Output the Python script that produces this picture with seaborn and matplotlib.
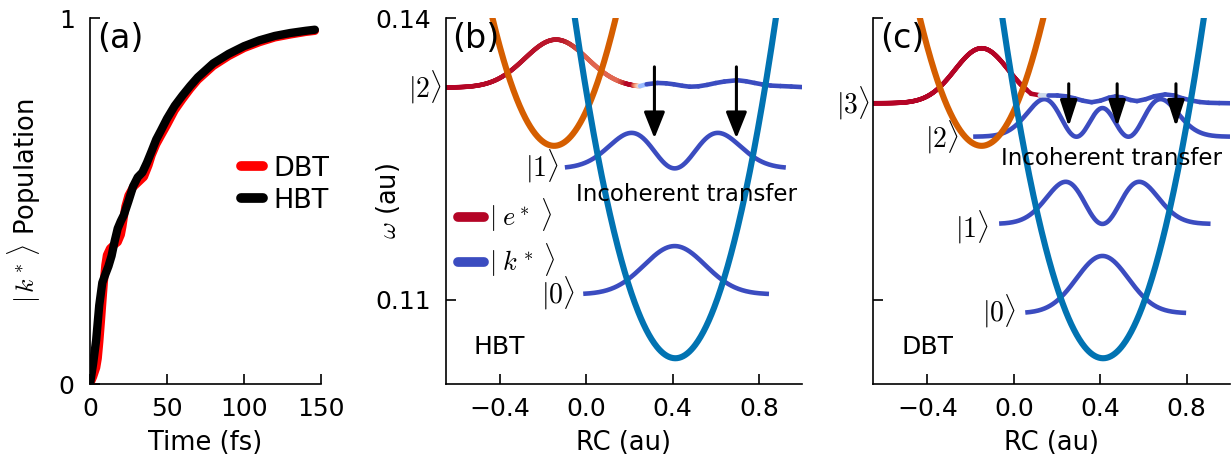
import numpy as np
import pandas as pd
import matplotlib
matplotlib.use("Agg")
import matplotlib.pyplot as plt
import seaborn as sns
from matplotlib.collections import LineCollection
from matplotlib.lines import Line2D

# ---------------- data: panel (a) population ----------------
t_hbt = [0, 2, 4, 6, 8, 10, 12, 14, 16, 18, 20, 22, 25, 28, 31, 34, 37, 40, 43, 46,
         50, 55, 60, 65, 70, 80, 90, 100, 110, 120, 130, 140, 146]
pop_hbt = [0, 0.055, 0.12, 0.215, 0.277, 0.300, 0.322, 0.350, 0.390, 0.425, 0.445, 0.462,
           0.500, 0.540, 0.565, 0.578, 0.605, 0.636, 0.668, 0.692, 0.725, 0.760, 0.788,
           0.814, 0.838, 0.876, 0.902, 0.923, 0.939, 0.951, 0.959, 0.965, 0.968]
t_dbt = [0, 2, 4, 5, 6, 7, 8, 9, 10, 11, 13, 15, 18, 20, 21, 22, 23, 25, 28, 31, 35, 38,
         40, 43, 46, 50, 55, 60, 65, 70, 80, 90, 100, 110, 120, 130, 140, 146]
pop_dbt = [0, 0.02, 0.045, 0.07, 0.115, 0.168, 0.225, 0.28, 0.325, 0.352, 0.37, 0.378,
           0.388, 0.408, 0.43, 0.458, 0.485, 0.515, 0.538, 0.55, 0.566, 0.598, 0.625,
           0.655, 0.678, 0.708, 0.748, 0.778, 0.806, 0.831, 0.869, 0.896, 0.918, 0.934,
           0.947, 0.955, 0.962, 0.965]

# ---------------- data: panels (b),(c) schematic ----------------
well_names = ["enol", "keto"]
well_rc_min = [-0.149, 0.413]          # RC of minima
well_w_min = [0.1264, 0.1038]          # omega of minima
well_curv = [0.1667, 0.1667]           # curvature (au)
well_rc_range = [(-0.435, 0.137), (-0.053, 0.88)]

# keto vibrational levels (HBT, DBT)
lev_b_w = [0.1106, 0.1240]
lev_b_rng = [(-0.014, 0.847), (-0.099, 0.925)]
lev_b_width, lev_b_amp, lev_b_center = 0.20, 0.0091, 0.41
lev_c_w = [0.10859, 0.11809, 0.12737]
lev_c_rng = [(0.053, 0.797), (-0.068, 0.91), (-0.188, 1.0)]
lev_c_width, lev_c_amp, lev_c_center = 0.17, 0.0108, 0.41

# top (mixed) states: enol gaussian part + keto tail
top_b_w, top_b_peak, top_b_center, top_b_width, top_b_cut = 0.1326, 0.0051, -0.14, 0.205, 0.25
tail_b_rc = [0.25, 0.28, 0.33, 0.37, 0.405, 0.445, 0.48, 0.52, 0.56, 0.60, 0.64, 0.70,
             0.74, 0.78, 0.815, 0.855, 0.90, 0.95, 1.0]
tail_b_w = [0.13276, 0.13295, 0.13309, 0.13305, 0.13295, 0.13279, 0.13269, 0.13273,
            0.13288, 0.13308, 0.13324, 0.13338, 0.13327, 0.13309, 0.13294, 0.13281,
            0.13276, 0.13271, 0.13265]
top_c_w, top_c_peak, top_c_center, top_c_width, top_c_cut = 0.13093, 0.00585, -0.149, 0.175, 0.06
tail_c_rc = [0.08, 0.12, 0.16, 0.20, 0.24, 0.28, 0.32, 0.36, 0.40, 0.44, 0.47, 0.50, 0.54,
             0.57, 0.61, 0.65, 0.70, 0.74, 0.78, 0.82, 0.86, 0.90, 0.95, 1.0]
tail_c_w = [0.13194, 0.13178, 0.13176, 0.13176, 0.13167, 0.13146, 0.13120, 0.13104,
            0.13120, 0.13152, 0.13165, 0.13155, 0.13127, 0.13116, 0.13136, 0.13167,
            0.13187, 0.13176, 0.13146, 0.13123, 0.13106, 0.13098, 0.13095, 0.13093]

arrows_b_rc = [0.316, 0.696]
arrows_b_w = (0.1348, 0.1272)
arrows_c_rc = [0.254, 0.478, 0.75]
arrows_c_w = (0.1330, 0.12844)

# ---------------- style ----------------
sns.set_theme(style="ticks")
plt.rcParams["font.family"] = ["DejaVu Sans"]
plt.rcParams["mathtext.fontset"] = "cm"
plt.rcParams["axes.linewidth"] = 1.2
for k in ["text.color", "axes.labelcolor", "xtick.color", "ytick.color", "axes.edgecolor"]:
    plt.rcParams[k] = "black"

TICK_FS = 18
LABEL_FS = 18.5
ORANGE = "#d55e00"
BLUE = "#0173b2"
cw = plt.get_cmap("coolwarm")
WBLUE = cw(0.0)
WRED = cw(1.0)

fig = plt.figure(figsize=(12.31, 4.59), dpi=100)
H = 459.0
W = 1231.0
def axes_px(l, r, t, b):
    return fig.add_axes([l / W, 1 - b / H, (r - l) / W, (b - t) / H])

axa = axes_px(90, 321, 18, 384)
axb = axes_px(446, 802, 18, 384)
axc = axes_px(873.3, 1230, 18, 384)

for ax in (axa, axb, axc):
    sns.despine(ax=ax)
    ax.tick_params(direction="in", length=7, width=1.2, labelsize=TICK_FS, colors="black")
    ax.tick_params(axis="x", pad=9)
    ax.tick_params(axis="y", pad=11)

# ---------------- panel (a) ----------------
df_a = pd.concat([
    pd.DataFrame({"t": t_dbt, "p": pop_dbt, "mol": "DBT"}),
    pd.DataFrame({"t": t_hbt, "p": pop_hbt, "mol": "HBT"}),
])
sns.lineplot(data=df_a, x="t", y="p", hue="mol", palette={"DBT": "#ff0000", "HBT": "black"},
             lw=6, ax=axa, legend=False, sort=False, solid_capstyle="round")
axa.set_xlim(0, 150)
axa.set_ylim(0, 1)
axa.set_xticks([0, 50, 100, 150])
axa.set_yticks([0, 1])
axa.set_yticklabels(["0", "1"])
axa.set_xlabel("Time (fs)", fontsize=LABEL_FS)
axa.set_ylabel(r"$|\,k^*\,\rangle$ Population", fontsize=LABEL_FS)
axa.xaxis.set_label_coords(0.5, -0.125)
axa.yaxis.set_label_coords(-0.205, 0.5)
axa.text(0.03, 0.945, "(a)", transform=axa.transAxes, fontsize=24, va="center", ha="left")
hd = [Line2D([], [], color="#ff0000", lw=7, solid_capstyle="round"),
      Line2D([], [], color="black", lw=7, solid_capstyle="round")]
axa.legend(hd, ["DBT", "HBT"], loc="center left", bbox_to_anchor=(0.655, 0.545),
           frameon=False, fontsize=19.5, handlelength=0.8, handletextpad=0.4,
           labelspacing=0.22, borderpad=0, borderaxespad=0)

# ---------------- panels (b),(c) ----------------
def dens(n, xi):
    if n == 0:
        return np.exp(-xi**2) / np.sqrt(np.pi)
    if n == 1:
        return 2 * xi**2 * np.exp(-xi**2) / np.sqrt(np.pi)
    return (4 * xi**2 - 2) ** 2 * np.exp(-xi**2) / (8 * np.sqrt(np.pi))

def draw_panel(ax, lev_w, lev_rng, width, amp, center, top, tail_rc, tail_w, cstops,
               arrows_rc, arrows_w, head_w):
    # keto levels
    for n, (E, (x0, x1)) in enumerate(zip(lev_w, lev_rng)):
        x = np.linspace(x0, x1, 300)
        ax.plot(x, E + amp * dens(n, (x - center) / width), color=WBLUE, lw=3.3,
                solid_capstyle="butt", zorder=2)
    # top mixed state with colour gradient
    E, pk, c0, wd, cut = top
    xg = np.linspace(-0.66, cut, 400)
    yg = E + pk * np.exp(-((xg - c0) / wd) ** 2)
    xa = np.concatenate([xg, np.asarray(tail_rc)])
    ya = np.concatenate([yg, np.asarray(tail_w)])
    pts = np.column_stack([xa, ya]).reshape(-1, 1, 2)
    segs = np.concatenate([pts[:-1], pts[1:]], axis=1)
    xm = 0.5 * (xa[:-1] + xa[1:])
    cs = np.interp(xm, [s[0] for s in cstops], [s[1] for s in cstops])
    lc = LineCollection(segs, colors=cw(cs), linewidths=3.3, capstyle="round", zorder=2)
    ax.add_collection(lc)
    # wells
    for i in range(2):
        x = np.linspace(well_rc_range[i][0], well_rc_range[i][1], 300)
        dfw = pd.DataFrame({"rc": x, "w": well_w_min[i] + well_curv[i] * (x - well_rc_min[i]) ** 2})
        sns.lineplot(data=dfw, x="rc", y="w", color=[ORANGE, BLUE][i], lw=4.4, ax=ax,
                     solid_capstyle="round", zorder=3)
    # arrows
    for xr in arrows_rc:
        ax.annotate("", xy=(xr, arrows_w[1]), xytext=(xr, arrows_w[0]),
                    arrowprops=dict(arrowstyle=f"-|>,head_length=0.8,head_width={head_w}",
                                    mutation_scale=20, lw=2.2, color="black",
                                    shrinkA=0, shrinkB=0), zorder=5)
    ax.set_xlim(-0.65, 1.0)
    ax.set_ylim(0.10106, 0.14)
    ax.set_xticks([-0.4, 0.0, 0.4, 0.8])
    ax.set_xticklabels(["\u22120.4", "0.0", "0.4", "0.8"])
    ax.set_yticks([0.11, 0.14])
    ax.set_xlabel("RC (au)", fontsize=LABEL_FS)
    ax.xaxis.set_label_coords(0.5, -0.125)

draw_panel(axb, lev_b_w, lev_b_rng, lev_b_width, lev_b_amp, lev_b_center,
           (top_b_w, top_b_peak, top_b_center, top_b_width, top_b_cut),
           tail_b_rc, tail_b_w,
           [(-0.66, 1.0), (-0.1, 0.98), (0.0, 0.87), (0.15, 0.86), (0.19, 1.0),
            (0.215, 1.0), (0.25, 0.5), (0.285, 0.0), (1.0, 0.0)],
           arrows_b_rc, arrows_b_w, 0.32)
draw_panel(axc, lev_c_w, lev_c_rng, lev_c_width, lev_c_amp, lev_c_center,
           (top_c_w, top_c_peak, top_c_center, top_c_width, top_c_cut),
           tail_c_rc, tail_c_w,
           [(-0.66, 1.0), (0.10, 1.0), (0.137, 0.5), (0.165, 0.0), (1.0, 0.0)],
           arrows_c_rc, arrows_c_w, 0.26)

axb.set_yticklabels(["0.11", "0.14"])
axc.set_yticklabels(["", ""])
axb.set_ylabel(r"$\omega$ (au)", fontsize=LABEL_FS)
axb.yaxis.set_label_coords(-0.124, 0.5)
axc.set_ylabel("")

# labels in (b)
kw = dict(fontsize=20, va="center", ha="right", clip_on=False)
axb.text(-0.67, 0.1326, r"$|2\rangle$", **kw)
axb.text(-0.125, 0.1242, r"$|1\rangle$", **kw)
axb.text(-0.052, 0.1107, r"$|0\rangle$", **kw)
axb.text(-0.048, 0.12124, "Incoherent transfer", fontsize=16.5, va="center", ha="left")
axb.text(0.077, 0.101, "HBT", transform=axb.transAxes, fontsize=18, va="center", ha="left")
axb.text(0.016, 0.945, "(b)", transform=axb.transAxes, fontsize=24, va="center", ha="left")
hk = [Line2D([], [], color=WRED, lw=7, solid_capstyle="round"),
      Line2D([], [], color=WBLUE, lw=7, solid_capstyle="round")]
axb.legend(hk, [r"$|\;e^*\;\rangle$", r"$|\;k^*\;\rangle$"], loc="center left",
           bbox_to_anchor=(0.033, 0.399), frameon=False, fontsize=19, handlelength=1.0,
           handletextpad=0.2, labelspacing=0.3, borderpad=0, borderaxespad=0)

# labels in (c)
axc.text(-0.664, 0.13093, r"$|3\rangle$", **kw)
axc.text(-0.256, 0.12737, r"$|2\rangle$", **kw)
axc.text(-0.114, 0.1178, r"$|1\rangle$", **kw)
axc.text(0.01, 0.1088, r"$|0\rangle$", **kw)
axc.text(-0.059, 0.12507, "Incoherent transfer", fontsize=16.5, va="center", ha="left")
axc.text(0.078, 0.101, "DBT", transform=axc.transAxes, fontsize=18, va="center", ha="left")
axc.text(0.019, 0.945, "(c)", transform=axc.transAxes, fontsize=24, va="center", ha="left")

fig.savefig("out.png", dpi=100)
